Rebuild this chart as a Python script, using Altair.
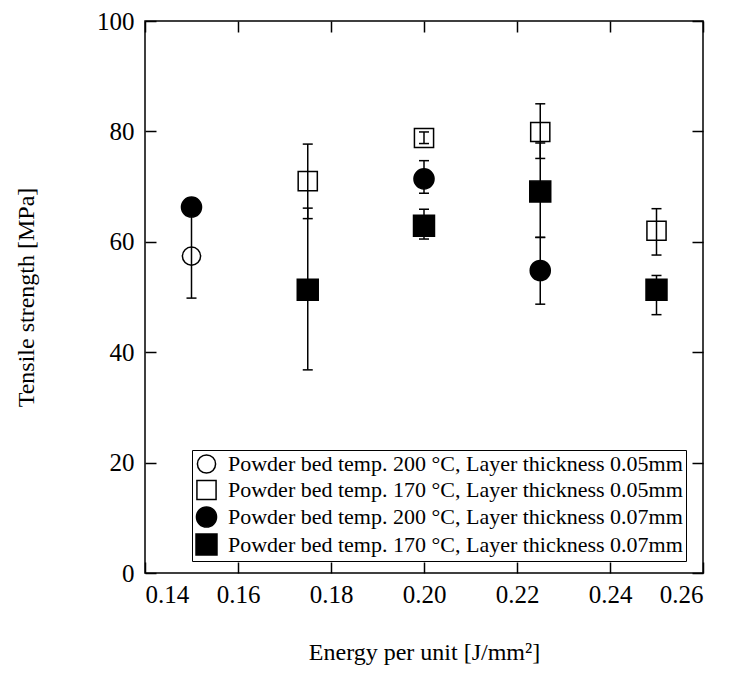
import altair as alt
import pandas as pd

series_names = [
    "Powder bed temp. 200 °C, Layer thickness 0.05mm",
    "Powder bed temp. 170 °C, Layer thickness 0.05mm",
    "Powder bed temp. 200 °C, Layer thickness 0.07mm",
    "Powder bed temp. 170 °C, Layer thickness 0.07mm",
]

# series 1: open circle
s1_x = [0.15]
s1_y = [57.4]
s1_hi = [65.0]
s1_lo = [49.8]
# series 2: open square
s2_x = [0.175, 0.20, 0.225, 0.25]
s2_y = [71.0, 78.8, 79.9, 62.0]
s2_hi = [77.7, 79.9, 85.0, 66.0]
s2_lo = [64.2, 77.8, 75.1, 57.6]
# series 3: filled circle
s3_x = [0.15, 0.20, 0.225]
s3_y = [66.3, 71.4, 54.8]
s3_hi = [67.3, 74.7, 60.8]
s3_lo = [65.3, 68.8, 48.7]
# series 4: filled square
s4_x = [0.175, 0.20, 0.225, 0.25]
s4_y = [51.3, 62.9, 69.1, 51.3]
s4_hi = [66.1, 65.9, 77.9, 53.9]
s4_lo = [36.8, 60.5, 60.8, 46.8]

x_ticks = [0.14, 0.16, 0.18, 0.20, 0.22, 0.24, 0.26]
y_ticks = [0, 20, 40, 60, 80, 100]

rows = []
for name, xs, ys, his, los in [
    (series_names[0], s1_x, s1_y, s1_hi, s1_lo),
    (series_names[1], s2_x, s2_y, s2_hi, s2_lo),
    (series_names[2], s3_x, s3_y, s3_hi, s3_lo),
    (series_names[3], s4_x, s4_y, s4_hi, s4_lo),
]:
    for x, y, h, l in zip(xs, ys, his, los):
        rows.append({"series": name, "energy": x, "strength": y, "hi": h, "lo": l})
df = pd.DataFrame(rows)

FONT = "Liberation Serif"
xscale = alt.Scale(domain=[0.14, 0.26], nice=False, zero=False)
yscale = alt.Scale(domain=[0, 100], nice=False, zero=False)

tick_common = dict(tickSize=11, offset=-11, domain=False, grid=False,
                   tickColor="black", tickWidth=1.5,
                   labelFont=FONT, titleFont=FONT, labelFontSize=25, titleFontSize=24,
                   titleFontWeight="normal", labelColor="black", titleColor="black")

base = alt.Chart(df)

bars = base.mark_rule(color="black", strokeWidth=1.5).encode(
    x=alt.X("energy:Q", scale=xscale,
            axis=alt.Axis(orient="top", values=x_ticks, labels=False, title=None, **tick_common)),
    y=alt.Y("lo:Q", scale=yscale,
            axis=alt.Axis(orient="right", values=y_ticks, labels=False, title=None, **tick_common)),
    y2="hi:Q",
)

caps = base.transform_fold(["hi", "lo"], as_=["which", "val"]).mark_tick(
    color="black", orient="horizontal", size=10, thickness=1.5, opacity=1
).encode(
    x=alt.X("energy:Q", scale=xscale, axis=None),
    y=alt.Y("val:Q", scale=yscale, axis=None),
)

legend_common = dict(title=None, orient="none", legendX=47, legendY=429)

points = base.mark_point(stroke="black", strokeWidth=1.5, opacity=1).encode(
    x=alt.X("energy:Q", scale=xscale,
            axis=alt.Axis(values=x_ticks, format=".2f", labelPadding=9,
                          title="Energy per unit [J/mm²]", titlePadding=33, **tick_common)),
    y=alt.Y("strength:Q", scale=yscale,
            axis=alt.Axis(values=y_ticks, labelPadding=11,
                          title="Tensile strength [MPa]", titlePadding=58, **tick_common)),
    shape=alt.Shape("series:N", scale=alt.Scale(domain=series_names,
                    range=["circle", "square", "circle", "square"]),
                    legend=alt.Legend(strokeColor="black", fillColor="white", padding=3,
                                      labelFontSize=22, labelFont=FONT, labelLimit=0,
                                      labelColor="black",
                                      labelOffset=10, rowPadding=0,
                                      symbolStrokeColor="black", symbolStrokeWidth=1.5,
                                      **legend_common)),
    fill=alt.Fill("series:N", scale=alt.Scale(domain=series_names,
                  range=["transparent", "transparent", "black", "black"]),
                  legend=alt.Legend(**legend_common)),
    size=alt.Size("series:N", scale=alt.Scale(domain=series_names,
                  range=[330, 440, 346, 484]),
                  legend=alt.Legend(**legend_common)),
)

chart = alt.layer(bars, caps, points).resolve_axis(
    x="independent", y="independent"
).properties(
    width=558, height=552,
    autosize=alt.AutoSizeParams(type="none"),
    padding={"left": 137, "top": 13, "right": 15, "bottom": 97},
    background="white",
).configure_view(
    stroke="black", strokeWidth=1.5
)

chart.save("out.html", embed_options={"renderer": "svg", "actions": False})
